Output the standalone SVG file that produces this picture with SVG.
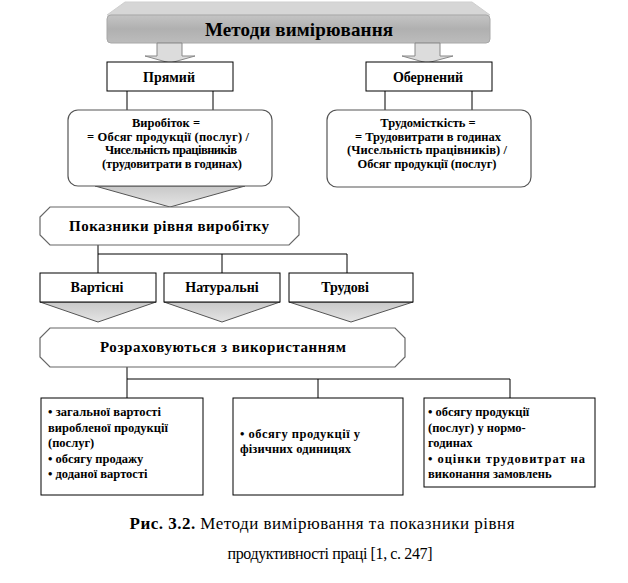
<svg xmlns="http://www.w3.org/2000/svg" width="628" height="583" viewBox="0 0 628 583" font-family="'Liberation Serif', 'DejaVu Serif', serif">
<defs>
<linearGradient id="front" x1="0" y1="0" x2="0" y2="1">
<stop offset="0" stop-color="#c4c4c4"/>
<stop offset="0.5" stop-color="#b0b0b0"/>
<stop offset="1" stop-color="#bcbcbc"/>
</linearGradient>
<linearGradient id="tri" x1="0" y1="0" x2="0" y2="1">
<stop offset="0" stop-color="#c8c8c8"/>
<stop offset="1" stop-color="#e4e4e4"/>
</linearGradient>
</defs>
<style>
text{fill:#000;font-weight:bold}
.box{fill:#fff;stroke:#000;stroke-width:1}
.oct{fill:#fff;stroke:#666;stroke-width:1.2}
.rbox{fill:#fff;stroke:#555;stroke-width:1.2}
.tri{fill:url(#tri);stroke:#555;stroke-width:1}
.arr{fill:#dcdcdc;stroke:#888;stroke-width:1}
.ln{stroke:#000;stroke-width:1;fill:none}
.t11{font-size:12.5px}
.t14{font-size:14px}
.t15{font-size:15px}
.reg{font-weight:normal}
</style>
<rect width="628" height="583" fill="#fff"/>

<g id="banner">
<polygon points="125,2 472,2 490,15 107,15" fill="#d6d6d6" stroke="#cfcfcf"/>
<rect x="107" y="15" width="383" height="28" rx="4" fill="url(#front)" stroke="#a8a8a8"/>
<text x="299" y="36" font-size="19" text-anchor="middle" textLength="188">Методи вимірювання</text>
</g>

<g id="connectors">
<polygon class="arr" points="157,43 182,43 182,56 195,56 170,63 145,56 157,56"/>
<polygon class="arr" points="415,43 440,43 440,56 453,56 427,63 402,56 415,56"/>
<line class="ln" x1="127" y1="91" x2="127" y2="110"/>
<line class="ln" x1="213" y1="91" x2="213" y2="110"/>
<line class="ln" x1="385" y1="91" x2="385" y2="110"/>
<line class="ln" x1="472" y1="91" x2="472" y2="110"/>
<polygon class="tri" points="95,186 245,186 170,207"/>
<polyline class="ln" points="98,245 98,273"/>
<polyline class="ln" points="98,254 347,254"/>
<polyline class="ln" points="222,254 222,273"/>
<polyline class="ln" points="347,254 347,273"/>
<polygon class="tri" points="40,302 156,302 98,322"/>
<polygon class="tri" points="164,302 280,302 222,322"/>
<polygon class="tri" points="289,302 413,302 351,322"/>
<polyline class="ln" points="127,367 127,398"/>
<polyline class="ln" points="127,379 510,379"/>
<polyline class="ln" points="318,379 318,398"/>
<polyline class="ln" points="510,379 510,398"/>
</g>

<g id="pryamyi">
<rect class="box" x="107" y="62" width="126" height="29"/>
<text class="t14" x="169" y="82" text-anchor="middle">Прямий</text>
</g>

<g id="obernenyi">
<rect class="box" x="366" y="62" width="126" height="29"/>
<text class="t14" x="428" y="82" text-anchor="middle">Обернений</text>
</g>

<g id="vyrobitok">
<rect class="rbox" x="68" y="110" width="204" height="76" rx="10"/>
<text class="t11" x="166" y="127" text-anchor="middle">Виробіток =</text>
<text class="t11" x="168" y="141" text-anchor="middle" textLength="162">= Обсяг продукції (послуг) /</text>
<text class="t11" x="171" y="154" text-anchor="middle" textLength="132">Чисельність працівників</text>
<text class="t11" x="172" y="168" text-anchor="middle" textLength="140">(трудовитрати в годинах)</text>
</g>

<g id="trudomistkist">
<rect class="rbox" x="327" y="110" width="204" height="77" rx="10"/>
<text class="t11" x="428" y="127" text-anchor="middle">Трудомісткість =</text>
<text class="t11" x="428" y="141" text-anchor="middle" textLength="146">= Трудовитрати в годинах</text>
<text class="t11" x="427" y="154" text-anchor="middle" textLength="160">(Чисельність  працівників) /</text>
<text class="t11" x="427" y="168" text-anchor="middle" textLength="139">Обсяг продукції (послуг)</text>
</g>

<g id="pokaznyky">
<path class="oct" d="M50,207 H289 L299,217 V235 L289,245 H50 L40,235 V217 Z"/>
<text class="t15" x="169" y="231" text-anchor="middle" textLength="200">Показники рівня виробітку</text>
</g>

<g id="vartisni">
<rect class="box" x="40" y="273" width="116" height="29"/>
<text class="t14" x="97" y="292" text-anchor="middle">Вартісні</text>
</g>

<g id="naturalni">
<rect class="box" x="164" y="273" width="116" height="29"/>
<text class="t14" x="222" y="292" text-anchor="middle">Натуральні</text>
</g>

<g id="trudovi">
<rect class="box" x="289" y="273" width="124" height="29"/>
<text class="t14" x="345" y="292" text-anchor="middle">Трудові</text>
</g>

<g id="rozrakhovuyutsya">
<path class="oct" d="M50,328 H395 L405,338 V357 L395,367 H50 L40,357 V338 Z"/>
<text class="t15" x="223" y="352" text-anchor="middle" textLength="246">Розраховуються з використанням</text>
</g>

<g id="vartisni-list">
<rect class="box" x="41" y="398" width="162" height="97"/>
<text class="t11" x="48" y="416" textLength="113">• загальної  вартості</text>
<text class="t11" x="48" y="432" textLength="120">виробленої продукції</text>
<text class="t11" x="48" y="447">(послуг)</text>
<text class="t11" x="48" y="463">• обсягу продажу</text>
<text class="t11" x="48" y="478">• доданої вартості</text>
</g>

<g id="naturalni-list">
<rect class="box" x="233" y="398" width="170" height="97"/>
<text class="t11" x="240" y="438" textLength="120">• обсягу продукції  у</text>
<text class="t11" x="240" y="453" textLength="111">фізичних  одиницях</text>
</g>

<g id="trudovi-list">
<rect class="box" x="424" y="398" width="171" height="89"/>
<text class="t11" x="428" y="416">• обсягу продукції</text>
<text class="t11" x="428" y="432">(послуг)  у нормо-</text>
<text class="t11" x="428" y="447">годинах</text>
<text class="t11" x="428" y="463" textLength="157">• оцінки  трудовитрат  на</text>
<text class="t11" x="428" y="478">виконання замовлень</text>
</g>

<g id="caption">
<text x="322" y="529" font-size="17" text-anchor="middle" textLength="385">Рис. 3.2. <tspan class="reg">Методи вимірювання та показники рівня</tspan></text>
<text class="reg" x="330" y="559" font-size="16" text-anchor="middle" textLength="205">продуктивності праці [1, с. 247]</text>
</g>
</svg>
